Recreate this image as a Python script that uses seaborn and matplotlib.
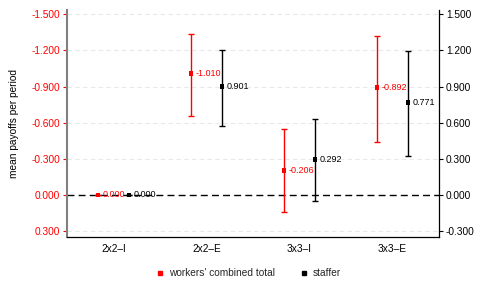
import matplotlib
matplotlib.use("Agg")
import matplotlib.pyplot as plt
from matplotlib.lines import Line2D
import numpy as np
import pandas as pd
import seaborn as sns

conditions = ["2x2\u2013I", "2x2\u2013E", "3x3\u2013I", "3x3\u2013E"]

# workers' combined total (left axis, inverted)
workers_mean = [0.000, -1.010, -0.206, -0.892]
workers_lo = [0.000, -1.340, -0.550, -1.323]
workers_hi = [0.000, -0.652, 0.143, -0.440]

# staffer (right axis)
staffer_mean = [0.000, 0.901, 0.292, 0.771]
staffer_lo = [0.000, 0.572, -0.050, 0.323]
staffer_hi = [0.000, 1.200, 0.627, 1.199]

yticks = [-1.5, -1.2, -0.9, -0.6, -0.3, 0.0, 0.3]


def fmt(v):
    return f"{v:.3f}" if abs(v) > 1e-9 else "0.000"


sns.set_style("white")
plt.rcParams["font.family"] = ["Liberation Sans", "DejaVu Sans"]

RED = "#ff0000"
pos = np.arange(len(conditions))
off = 0.167

wdf = pd.DataFrame({"x": pos - off, "y": workers_mean,
                    "lo": workers_lo, "hi": workers_hi})
sdf = pd.DataFrame({"x": pos + off, "y": staffer_mean,
                    "lo": staffer_lo, "hi": staffer_hi})

fig = plt.figure(figsize=(4.96, 2.97), dpi=100)
ax = fig.add_axes([0.135, 0.202, 0.750, 0.764])
ax2 = ax.twinx()

# left axis: workers, inverted
ax.set_ylim(0.349, -1.535)
ax2.set_ylim(-0.349, 1.535)
ax.set_xlim(-0.5, 3.5)

for v in [-1.5, -1.2, -0.9, -0.6, -0.3, 0.3]:
    ax.axhline(v, color="#e4eaee", lw=0.8, ls=(0, (4, 3)), zorder=0)
ax.axhline(0, color="black", lw=1.0, ls=(0, (5, 3)), zorder=1)

ax.errorbar(wdf["x"], wdf["y"],
            yerr=[wdf["y"] - wdf["lo"], wdf["hi"] - wdf["y"]],
            fmt="none", ecolor=RED, elinewidth=1.0, capsize=2.2, capthick=1.0, zorder=2)
sns.scatterplot(data=wdf, x="x", y="y", ax=ax, color=RED, marker="s",
                s=12, edgecolor="none", zorder=3, legend=False)
for _, r in wdf.iterrows():
    ax.text(r["x"] + 0.05, r["y"], fmt(r["y"]), color=RED,
            fontsize=6.5, va="center", ha="left", zorder=4)

ax2.errorbar(sdf["x"], sdf["y"],
             yerr=[sdf["y"] - sdf["lo"], sdf["hi"] - sdf["y"]],
             fmt="none", ecolor="black", elinewidth=1.0, capsize=2.2, capthick=1.0, zorder=2)
sns.scatterplot(data=sdf, x="x", y="y", ax=ax2, color="black", marker="s",
                s=12, edgecolor="none", zorder=3, legend=False)
for _, r in sdf.iterrows():
    ax2.text(r["x"] + 0.05, r["y"], fmt(r["y"]), color="black",
             fontsize=6.5, va="center", ha="left", zorder=4)

ax.set_yticks(yticks)
ax.set_yticklabels([fmt(v) for v in yticks])
ax2.set_yticks([-v for v in yticks])
ax2.set_yticklabels([fmt(-v) for v in yticks])
ax.tick_params(axis="y", colors=RED, labelsize=7.3, length=3, width=0.8, pad=2)
ax2.tick_params(axis="y", colors="black", labelsize=7.3, length=3, width=0.8, pad=2)

ax.set_xticks(pos)
ax.set_xticklabels(conditions)
ax.tick_params(axis="x", colors="black", labelsize=7.3, length=3, width=0.8, pad=2)
ax.set_xlabel("")
ax.set_ylabel("mean payoffs per period", fontsize=7.3, color="black", labelpad=9)
ax2.set_ylabel("")
ax2.set_xlabel("")

for a in (ax, ax2):
    a.spines["top"].set_visible(False)
    a.grid(False)
ax.spines["left"].set_color("#808080")
ax.spines["left"].set_linewidth(1.5)
ax2.spines["left"].set_visible(False)
ax.spines["right"].set_visible(False)
ax2.spines["right"].set_color("black")
ax2.spines["right"].set_linewidth(0.9)
ax.spines["bottom"].set_color("black")
ax.spines["bottom"].set_linewidth(0.9)
ax2.spines["bottom"].set_visible(False)

handles = [
    Line2D([], [], marker="s", color=RED, ls="none", markersize=3.5),
    Line2D([], [], marker="s", color="black", ls="none", markersize=3.5),
]
fig.legend(handles, ["workers' combined total", "staffer"],
           loc="center", bbox_to_anchor=(0.5, 0.08), ncol=2, frameon=False,
           fontsize=7.3, handletextpad=0.4, columnspacing=2.3, handlelength=1.0)

fig.savefig("out.png", dpi=100)
